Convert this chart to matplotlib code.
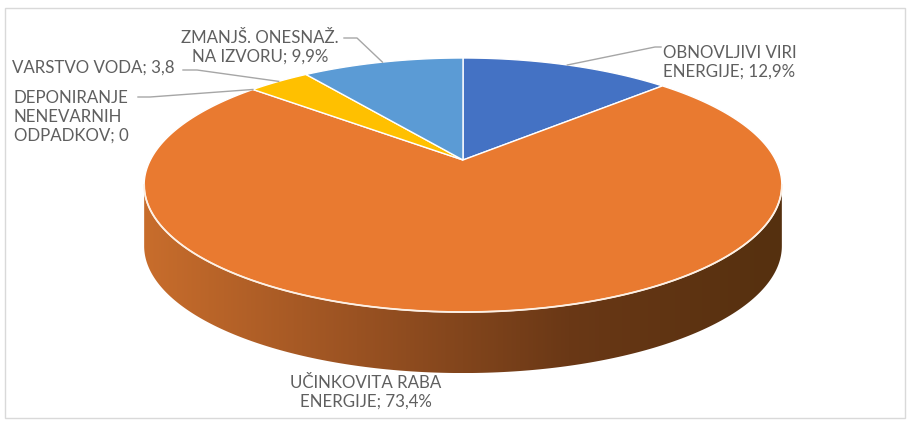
import numpy as np
import matplotlib.pyplot as plt
from matplotlib.patches import Polygon, Rectangle
from matplotlib.colors import LinearSegmentedColormap

categories = ["OBNOVLJIVI VIRI\nENERGIJE", "UČINKOVITA RABA\nENERGIJE",
              "DEPONIRANJE\nNENEVARNIH\nODPADKOV", "VARSTVO VODA", "ZMANJŠ. ONESNAŽ.\nNA IZVORU"]
values = [12.9, 73.4, 0.0, 3.8, 9.9]
value_text = ["12,9%", "73,4%", "0", "3,8", "9,9%"]
colors = ["#4472c4", "#e97a30", "#a5a5a5", "#ffc000", "#5b9bd5"]

# projection of the tilted disc (pixel space)
cx, cy = 463, 160
A, B, k = 312.6, 122.1, 0.197
depth = 61


def proj(u, v, dy=0.0):
    w = 1 + k * v
    return cx + A * u / w, cy - B * v / w + dy


def on_rim(theta_deg, dy=0.0):
    t = np.radians(theta_deg)
    return proj(np.sin(t), np.cos(t), dy)


fig = plt.figure(figsize=(9.12, 4.21), dpi=100)
ax = fig.add_axes([0, 0, 1, 1])
ax.set_xlim(0, 912)
ax.set_ylim(421, 0)
ax.axis('off')

# chart frame
ax.add_patch(Rectangle((5, 8), 900, 410, fill=False, ec="#d9d9d9", lw=1))

# side wall (front half only)
t = np.linspace(np.pi + np.arcsin(k), 2 * np.pi - np.arcsin(k), 200)
tx, ty = proj(np.cos(t), np.sin(t))
bx, by = proj(np.cos(t), np.sin(t), depth)
side = Polygon(np.column_stack([np.r_[tx, bx[::-1]], np.r_[ty, by[::-1]]]),
               closed=True, fc="none", ec="none")
ax.add_patch(side)
cmap = LinearSegmentedColormap.from_list("wall", ["#c86d2c", "#9a5222", "#6a3816", "#55300f"])
grad = np.linspace(0, 1, 256).reshape(1, -1)
im = ax.imshow(grad, cmap=cmap, aspect='auto',
               extent=[tx.min(), tx.max(), by.max(), ty.min() - 5], zorder=1)
im.set_clip_path(side)

# top slices
total = sum(values)
start = 0.0
mids = []
bounds = []
for val, col in zip(values, colors):
    span = 360 * val / total
    mids.append(start + span / 2)
    bounds.append(start)
    if val > 0:
        th = np.linspace(start, start + span, max(int(span), 2) + 1)
        x, y = on_rim(th)
        ax.add_patch(Polygon(np.column_stack([np.r_[cx, x], np.r_[cy, y]]),
                             closed=True, fc=col, ec="white", lw=1, zorder=2))
    start += span

# rim highlight
ax.plot(tx, ty, color="#fdf0e4", lw=1.3, zorder=3)

# labels
font = dict(family="Lato", fontsize=12.2, color="#5f5f5f")
lead = dict(color="#a6a6a6", lw=1, zorder=4)

# OBNOVLJIVI VIRI
px, py = on_rim(mids[0])
ax.plot([px, 655, 661], [py, 47, 47], **lead)
ax.text(663, 62, f"{categories[0]}; {value_text[0]}", ha="left", va="center",
        linespacing=1.2, **font)

# UČINKOVITA RABA
ax.text(366, 392, f"{categories[1]}; {value_text[1]}", ha="center", va="center",
        linespacing=1.2, **font)

# DEPONIRANJE (zero slice, points to boundary)
px, py = on_rim(bounds[2])
ax.plot([138, 150, px], [97, 97, py], **lead)
ax.text(14, 117, f"{categories[2]}; {value_text[2]}", ha="left", va="center",
        linespacing=1.2, **font)

# VARSTVO VODA
px, py = on_rim(mids[3])
ax.plot([183, 197, px], [70, 70, py], **lead)
ax.text(12, 68, f"{categories[3]}; {value_text[3]}", ha="left", va="center", **font)

# ZMANJŠ. ONESNAŽ.
px, py = on_rim(mids[4])
ax.plot([344, 357, px], [38, 38, py], **lead)
ax.text(260, 47, f"{categories[4]}; {value_text[4]}", ha="center", va="center",
        linespacing=1.2, **font)

fig.savefig("out.png", dpi=100)
